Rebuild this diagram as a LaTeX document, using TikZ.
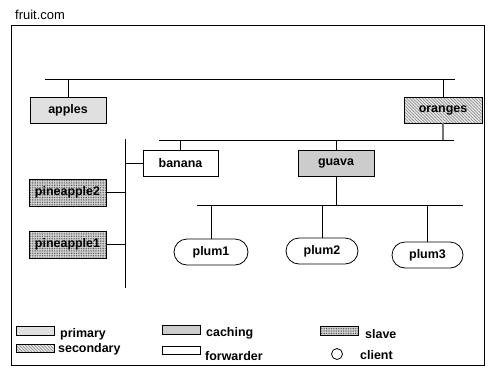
\documentclass[tikz,border=0pt]{standalone}
\usepackage{fontspec}
\setmainfont{Liberation Sans}
\usetikzlibrary{shapes.misc, patterns.meta, shadows}

\begin{document}
\begin{tikzpicture}[x=1bp, y=-1bp,
    primfill/.style={fill=black!12},
    cachefill/.style={fill=black!20},
    fwdfill/.style={fill=white},
    secfill/.style={preaction={fill=black!8}, pattern={Lines[angle=-45, distance=2.2bp, line width=0.7bp]}, pattern color=black!45},
    slavefill/.style={preaction={fill=black!15}, pattern={Dots[distance=1.7bp, radius=0.5bp]}, pattern color=black!75},
    server/.style={rectangle, draw, line width=0.8bp, minimum width=76bp, minimum height=26bp, inner sep=0pt, font=\bfseries\fontsize{12.5}{14}\selectfont, drop shadow={shadow xshift=1.3bp, shadow yshift=-1.3bp, fill=black!55, opacity=1}},
    client/.style={rounded rectangle, draw, line width=0.8bp, minimum width=72bp, minimum height=26bp, inner sep=0pt, font=\bfseries\fontsize{12.5}{14}\selectfont},
    keybox/.style={rectangle, draw, line width=0.8bp, minimum width=38bp, minimum height=9bp, inner sep=0pt},
    keytext/.style={anchor=west, inner sep=0pt, font=\bfseries\fontsize{12.5}{14}\selectfont},
    bus/.style={line width=0.8bp}
]
\useasboundingbox (0,0) rectangle (496,376);

% Domain frame
\node[anchor=west, inner sep=0pt, font=\fontsize{13}{15}\selectfont] (domain) at (15,15) {fruit.com};
\draw[line width=0.9bp] (11,25) rectangle (484,365);

% Bus ends
\coordinate (topw) at (45,79);
\coordinate (tope) at (455,79);
\coordinate (midw) at (159,140);
\coordinate (mide) at (454,140);
\coordinate (plumw) at (197,205);
\coordinate (plume) at (463,205);
\coordinate (vtop) at (125,139);
\coordinate (vbot) at (125,288);

% Servers
\node[server, primfill] (apples) at (68,110) {apples};
\node[server, secfill, minimum width=78bp] (oranges) at (443,110) {oranges};
\node[server, fwdfill, minimum width=75bp] (banana) at (180.5,163) {banana};
\node[server, cachefill] (guava) at (336,163) {guava};
\node[server, slavefill, minimum width=77bp, minimum height=27bp] (pineapple2) at (67.5,192.5) {pineapple2};
\node[server, slavefill, minimum width=77bp, minimum height=27bp] (pineapple1) at (67.5,244.5) {pineapple1};

% Clients
\node[client, minimum width=74bp] (plum1) at (211,252) {plum1};
\node[client] (plum2) at (322,251) {plum2};
\node[client, minimum width=71bp] (plum3) at (427.5,255) {plum3};

% Buses
\draw[bus] (topw) -- (tope);
\draw[bus] (midw) -- (mide);
\draw[bus] (plumw) -- (plume);
\draw[bus] (vtop) -- (vbot);

% Links
\draw[bus] (apples.north) -- (apples.north |- topw);
\draw[bus] (oranges.north) -- (oranges.north |- topw);
\draw[line width=1.2bp, black!55] (oranges.south) -- (oranges.south |- midw);
\draw[bus] (banana.north) -- (banana.north |- midw);
\draw[bus] (banana.west) -- (banana.west -| vtop);
\draw[bus] (guava.north) -- (guava.north |- midw);
\draw[bus] (guava.south) -- (guava.south |- plumw);
\draw[bus] (pineapple2.east) -- (pineapple2.east -| vtop);
\draw[bus] (pineapple1.east) -- (pineapple1.east -| vtop);
\draw[bus] (plum1.north) -- (plum1.north |- plumw);
\draw[bus] (plum2.north) -- (plum2.north |- plumw);
\draw[bus] (plum3.north) -- (plum3.north |- plumw);

% Legend
\node[keybox, primfill] (keyprim) at (35,331) {};
\node[keytext] (txtprim) at (60,334) {primary};
\node[keybox, secfill, minimum height=8bp] (keysec) at (35,348) {};
\node[keytext] (txtsec) at (58,349) {secondary};
\node[keybox, cachefill] (keycache) at (181,330) {};
\node[keytext] (txtcache) at (206,333) {caching};
\node[keybox, fwdfill, minimum height=8bp] (keyfwd) at (181,350) {};
\node[keytext] (txtfwd) at (205,356) {forwarder};
\node[keybox, slavefill] (keyslave) at (339,330.5) {};
\node[keytext] (txtslave) at (365,334) {slave};
\node[circle, draw, line width=0.8bp, minimum size=11bp, inner sep=0pt] (keyclient) at (337,354) {};
\node[keytext] (txtclient) at (360,355) {client};

\end{tikzpicture}
\end{document}
